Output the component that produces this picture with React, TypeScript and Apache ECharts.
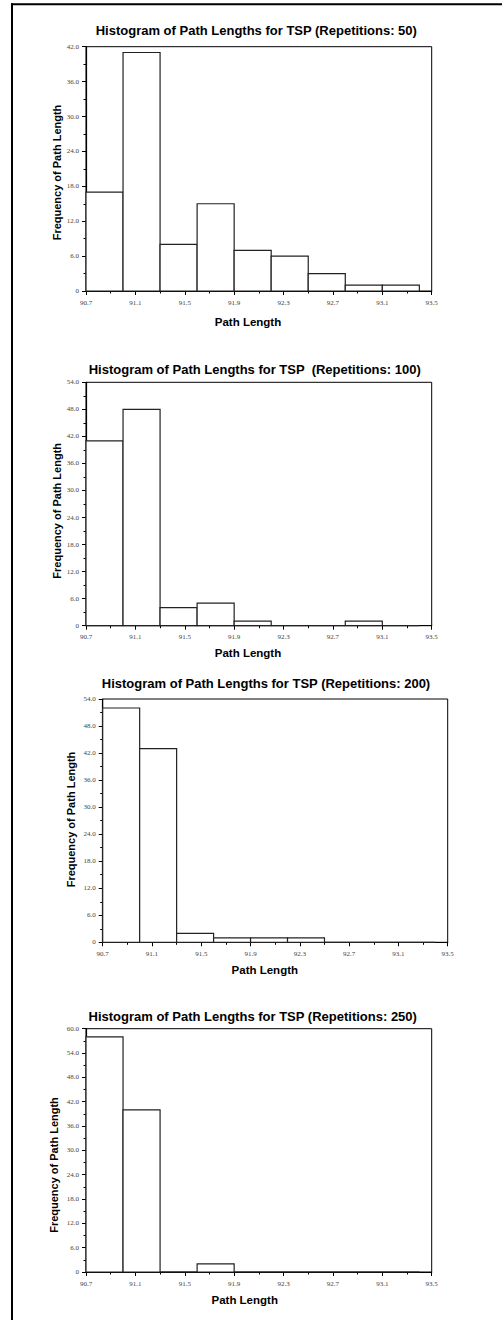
import React, { useEffect, useRef } from "react";
import * as echarts from "echarts";

// ---- data ----
const BIN_EDGES = [90.7, 91.0, 91.3, 91.6, 91.9, 92.2, 92.5, 92.8, 93.1, 93.4];
const X_AXIS_MIN = 90.7;
const X_AXIS_MAX = 93.5;
const X_TICK_STEP = 0.4;

const TITLES = [
  "Histogram of Path Lengths for TSP (Repetitions: 50)",
  "Histogram of Path Lengths for TSP  (Repetitions: 100)",
  "Histogram of Path Lengths for TSP (Repetitions: 200)",
  "Histogram of Path Lengths for TSP (Repetitions: 250)",
];
const COUNTS_50 = [17, 41, 8, 15, 7, 6, 3, 1, 1];
const COUNTS_100 = [41, 48, 4, 5, 1, 0, 0, 1, 0];
const COUNTS_200 = [52, 43, 2, 1, 1, 1, 0, 0, 0];
const COUNTS_250 = [58, 40, 0, 2, 0, 0, 0, 0, 0];
const ALL_COUNTS = [COUNTS_50, COUNTS_100, COUNTS_200, COUNTS_250];
const Y_MAX = [42, 54, 54, 60];
const Y_STEP = 6;
const X_NAME = "Path Length";
const Y_NAME = "Frequency of Path Length";

// ---- layout ----
const PANELS = [
  { grid: { left: 86, top: 46.7, width: 345.7, height: 244.3 }, title: [256.3, 30], xName: [248, 321.7], yName: [57.2, 172.5] },
  { grid: { left: 86, top: 382.3, width: 345.7, height: 243.4 }, title: [254.7, 369], xName: [248, 653.3], yName: [57.2, 510.8] },
  { grid: { left: 102.7, top: 699, width: 345, height: 243.3 }, title: [266, 683], xName: [264.8, 970], yName: [70.5, 819.5] },
  { grid: { left: 86, top: 1028.7, width: 345.7, height: 243.3 }, title: [252.7, 1016.3], xName: [244.7, 1300], yName: [53.8, 1165] },
];

const SANS = '"Liberation Sans", Arial, Helvetica, sans-serif';
const SERIF = '"Liberation Serif", "Times New Roman", serif';

export default function App() {
  const ref = useRef<HTMLDivElement>(null);

  useEffect(() => {
    if (!ref.current) return;
    const chart = echarts.init(ref.current, undefined, { renderer: "svg" });

    const grids: any[] = [];
    const xAxes: any[] = [];
    const yAxes: any[] = [];
    const series: any[] = [];
    const graphics: any[] = [];

    graphics.push({
      type: "line",
      shape: { x1: 12, y1: 3.3, x2: 12, y2: 1320 },
      style: { stroke: "#000", lineWidth: 2 },
    });
    graphics.push({
      type: "line",
      shape: { x1: 11, y1: 4.3, x2: 502, y2: 4.3 },
      style: { stroke: "#000", lineWidth: 2 },
    });

    PANELS.forEach((p, i) => {
      grids.push({
        ...p.grid,
        show: true,
        borderColor: "#000",
        borderWidth: 1,
        backgroundColor: "transparent",
        containLabel: false,
      });
      xAxes.push({
        type: "value",
        gridIndex: i,
        min: 0,
        max: +(X_AXIS_MAX - X_AXIS_MIN).toFixed(4),
        interval: X_TICK_STEP,
        axisLine: { show: true, lineStyle: { color: "#000", width: 1.2 } },
        axisTick: { show: true, inside: false, length: 4, lineStyle: { color: "#000", width: 1 } },
        minorTick: { show: true, splitNumber: 2, length: 2.5, lineStyle: { color: "#000", width: 1 } },
        splitLine: { show: false },
        axisLabel: {
          show: true,
          margin: 8,
          fontFamily: SERIF,
          fontSize: 7,
          color: "#444",
          formatter: (v: number) => (X_AXIS_MIN + v).toFixed(1),
        },
      });
      yAxes.push({
        type: "value",
        gridIndex: i,
        min: 0,
        max: Y_MAX[i],
        interval: Y_STEP,
        axisLine: { show: true, lineStyle: { color: "#000", width: 1.2 } },
        axisTick: { show: true, inside: false, length: 4, lineStyle: { color: "#000", width: 1 } },
        minorTick: { show: true, splitNumber: 2, length: 2.5, lineStyle: { color: "#000", width: 1 } },
        splitLine: { show: false },
        axisLabel: {
          show: true,
          margin: 7,
          fontFamily: SERIF,
          fontSize: 7,
          color: "#444",
          formatter: (v: number) => (v === 0 ? "0" : v.toFixed(1)),
        },
      });
      const counts = ALL_COUNTS[i];
      series.push({
        type: "custom",
        xAxisIndex: i,
        yAxisIndex: i,
        encode: { x: [0, 1], y: 2 },
        data: counts.map((c, k) => [BIN_EDGES[k], BIN_EDGES[k + 1], c]),
        renderItem: (_params: any, api: any) => {
          const x0 = api.value(0) as number;
          const x1 = api.value(1) as number;
          const c = api.value(2) as number;
          const p0 = api.coord([x0 - X_AXIS_MIN, 0]);
          const p1 = api.coord([x1 - X_AXIS_MIN, c]);
          return {
            type: "rect",
            shape: { x: p0[0], y: p1[1], width: p1[0] - p0[0], height: p0[1] - p1[1] },
            style: { fill: "#fff", stroke: "#222", lineWidth: 1.2 },
          };
        },
        z: 1,
      });
      graphics.push({
        type: "text",
        x: p.title[0],
        y: p.title[1],
        style: {
          text: TITLES[i],
          fontFamily: SANS,
          fontWeight: "bold",
          fontSize: 13,
          fill: "#000",
          align: "center",
          verticalAlign: "middle",
        },
      });
      graphics.push({
        type: "text",
        x: p.xName[0],
        y: p.xName[1],
        style: {
          text: X_NAME,
          fontFamily: SANS,
          fontWeight: "bold",
          fontSize: 11.5,
          fill: "#000",
          align: "center",
          verticalAlign: "middle",
        },
      });
      graphics.push({
        type: "text",
        x: p.yName[0],
        y: p.yName[1],
        rotation: Math.PI / 2,
        style: {
          text: Y_NAME,
          fontFamily: SANS,
          fontWeight: "bold",
          fontSize: 11,
          fill: "#000",
          align: "center",
          verticalAlign: "middle",
        },
      });
    });

    chart.setOption({
      animation: false,
      backgroundColor: "#fff",
      grid: grids,
      xAxis: xAxes,
      yAxis: yAxes,
      series,
      graphic: graphics,
    });

    return () => chart.dispose();
  }, []);

  return (
    <div
      ref={ref}
      style={{ position: "absolute", left: 0, top: 0, width: 502, height: 1320 }}
    />
  );
}
